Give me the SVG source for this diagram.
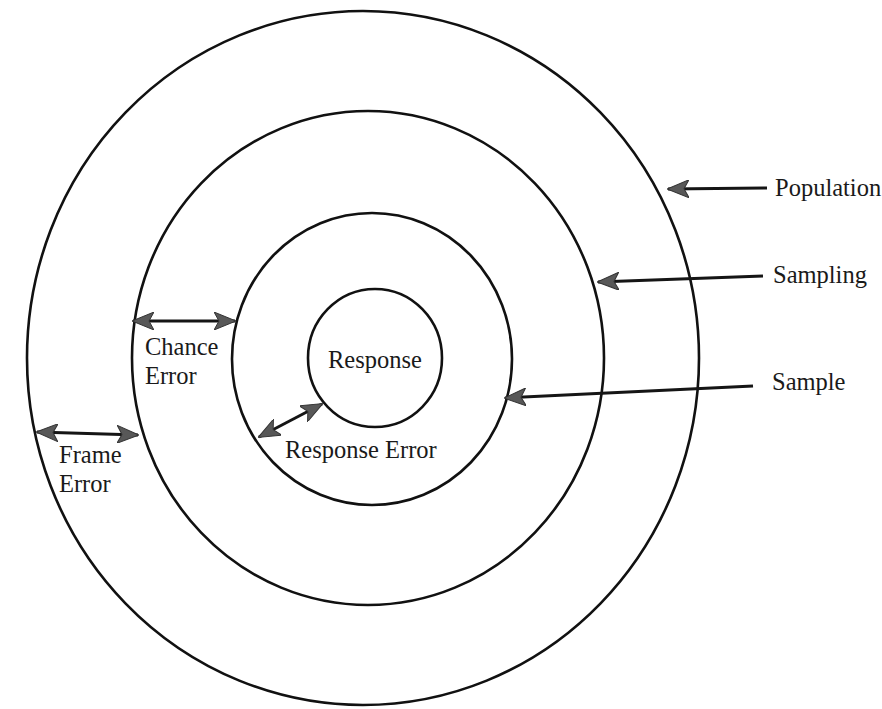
<svg xmlns="http://www.w3.org/2000/svg" width="882" height="709" viewBox="0 0 882 709">
  <style>
    .ring { fill: none; stroke: #111; stroke-width: 2.6; }
    .link { fill: none; stroke: #151515; stroke-width: 3; }
    .lbl { font-family: "Liberation Serif", "Times New Roman", serif; font-size: 24.5px; fill: #1a1a1a; }
  </style>
  <defs>
    <marker id="head" viewBox="0 0 22 18" refX="21" refY="9" markerWidth="22" markerHeight="18" markerUnits="userSpaceOnUse" orient="auto-start-reverse">
      <path d="M0,0 L22,9 L0,18 L5,9 Z" fill="#585858" stroke="#333" stroke-width="1"/>
    </marker>
  </defs>
  <rect width="882" height="709" fill="#ffffff"/>

  <!-- nested regions -->
  <g id="population">
    <ellipse class="ring" cx="363" cy="358" rx="336" ry="347"/>
  </g>
  <g id="sampling">
    <ellipse class="ring" cx="368" cy="358" rx="236" ry="247"/>
  </g>
  <g id="sample">
    <ellipse class="ring" cx="372" cy="359" rx="140" ry="146"/>
  </g>
  <g id="response">
    <ellipse class="ring" cx="375" cy="358" rx="67" ry="69"/>
    <text class="lbl" x="328" y="368">Response</text>
  </g>

  <!-- side labels -->
  <g id="population-label"><text class="lbl" x="775" y="196">Population</text></g>
  <g id="sampling-label"><text class="lbl" x="773" y="283">Sampling</text></g>
  <g id="sample-label"><text class="lbl" x="772" y="390">Sample</text></g>

  <!-- error bands -->
  <g id="frame-error">
    <text class="lbl" x="59" y="463">Frame</text>
    <text class="lbl" x="59" y="492">Error</text>
  </g>
  <g id="chance-error">
    <text class="lbl" x="145" y="355">Chance</text>
    <text class="lbl" x="145" y="384">Error</text>
  </g>
  <g id="response-error">
    <text class="lbl" x="285" y="458">Response Error</text>
  </g>

  <g id="connectors">
    <line class="link" x1="767" y1="188" x2="668" y2="189" marker-end="url(#head)"/>
    <line class="link" x1="763" y1="276" x2="598" y2="282" marker-end="url(#head)"/>
    <line class="link" x1="753" y1="386" x2="505" y2="398" marker-end="url(#head)"/>
    <line class="link" x1="37" y1="432" x2="138" y2="435" marker-start="url(#head)" marker-end="url(#head)"/>
    <line class="link" x1="133" y1="321" x2="235" y2="321" marker-start="url(#head)" marker-end="url(#head)"/>
    <line class="link" x1="259" y1="437" x2="322" y2="404" marker-start="url(#head)" marker-end="url(#head)"/>
  </g>
</svg>
